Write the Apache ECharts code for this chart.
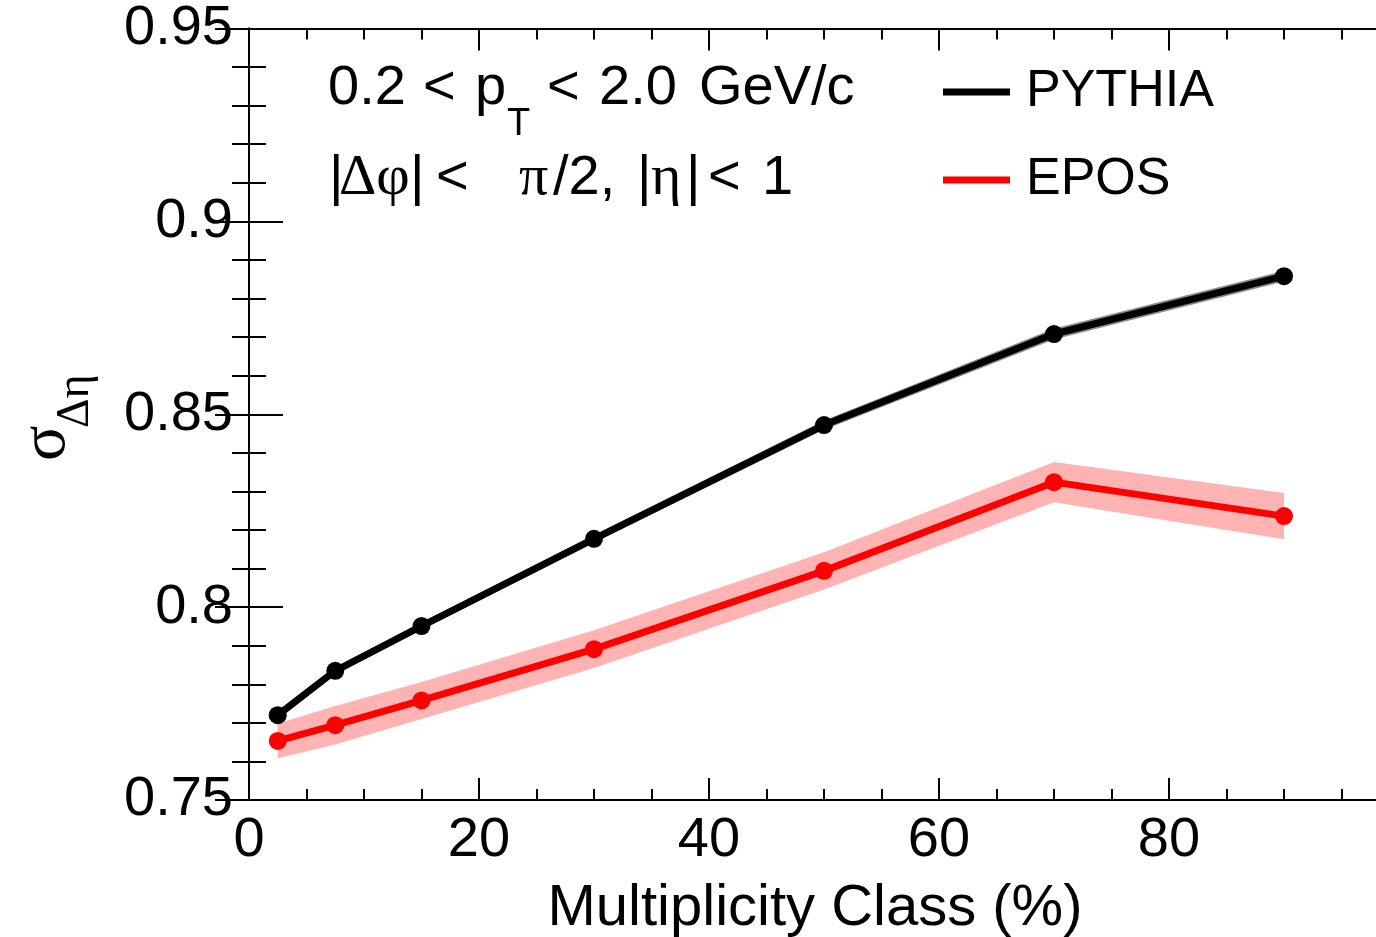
<!DOCTYPE html>
<html><head><meta charset="utf-8">
<script src="https://cdn.jsdelivr.net/npm/echarts@6/dist/echarts.min.js"></script>
<style>html,body{margin:0;padding:0;background:#fff}#c{width:1376px;height:937px}</style>
</head><body><div id="c"></div>
<script>
// ---- data ----
const multClass = [2.5, 7.5, 15, 30, 50, 70, 90];
const pythiaSigma = [0.7720, 0.7835, 0.7951, 0.8177, 0.8472, 0.8708, 0.8858];
const pythiaErr = [0.0008, 0.0008, 0.0009, 0.0010, 0.0012, 0.0014, 0.0014];
const eposSigma = [0.7653, 0.7694, 0.7758, 0.7891, 0.8094, 0.8324, 0.8236];
const eposErr = [0.0045, 0.0050, 0.0048, 0.0049, 0.0048, 0.0052, 0.0060];
const xTickValues = [0, 20, 40, 60, 80];
const xTickLabels = ['0', '20', '40', '60', '80'];
const yTickValues = [0.75, 0.8, 0.85, 0.9, 0.95];
const yTickLabels = ['0.75', '0.8', '0.85', '0.9', '0.95'];

const SANS = "'Liberation Sans', Arial, Helvetica, sans-serif";
const SERIF = "'Liberation Serif', 'Times New Roman', serif";

function lookup(vals, labels) {
  return function (v) {
    const i = vals.findIndex(t => Math.abs(t - v) < 1e-9);
    return i >= 0 ? labels[i] : '';
  };
}

function bandSeries(name, xs, ys, errs, color) {
  return {
    type: 'custom', name: name, silent: true, z: 1,
    data: xs.map((x, i) => [x, ys[i]]),
    renderItem: function (params, api) {
      if (params.dataIndex !== 0) return null;
      const upper = xs.map((x, i) => api.coord([x, ys[i] + errs[i]]));
      const lower = xs.map((x, i) => api.coord([x, ys[i] - errs[i]])).reverse();
      return { type: 'polygon', shape: { points: upper.concat(lower) }, style: { fill: color } };
    }
  };
}

const tickStyle = { color: '#000', width: 2 };
const xCommon = {
  type: 'value', min: 0, max: 100, interval: 20,
  axisLine: { show: true, lineStyle: { color: '#000', width: 2 } },
  axisTick: { show: true, inside: true, length: 22, lineStyle: tickStyle },
  minorTick: { show: true, splitNumber: 4, length: 11, lineStyle: tickStyle },
  splitLine: { show: false }, minorSplitLine: { show: false }
};
const yCommon = {
  type: 'value', min: 0.75, max: 0.95, interval: 0.05,
  axisLine: { show: true, lineStyle: { color: '#000', width: 2 } },
  axisTick: { show: true, inside: true, length: 34, lineStyle: tickStyle },
  minorTick: { show: true, splitNumber: 5, length: 17, lineStyle: tickStyle },
  splitLine: { show: false }, minorSplitLine: { show: false }
};

function txt(x, y, s, size, family) {
  return { type: 'text', x: x, y: y, silent: true,
    style: { text: s, fontSize: size, fontFamily: family || SANS, fill: '#000', align: 'left', verticalAlign: 'middle' } };
}

const L1 = 89, L2 = 179, FS = 56, FG = 58;

const chart = echarts.init(document.getElementById('c'), null, { renderer: 'canvas' });
chart.setOption({
  animation: false,
  backgroundColor: '#fff',
  grid: [
    { left: 249, top: 28.5, width: 1150, height: 771.5, containLabel: false, outerBoundsMode: 'none' },
    { left: 249, top: 28.5, width: 1136, height: 771.5, containLabel: false, outerBoundsMode: 'none' }
  ],
  xAxis: [
    Object.assign({}, xCommon, {
      gridIndex: 0, position: 'bottom',
      axisLabel: { show: true, fontSize: 56, fontFamily: SANS, color: '#000', margin: 13,
        formatter: lookup(xTickValues, xTickLabels), showMaxLabel: false }
    }),
    Object.assign({}, xCommon, { gridIndex: 0, position: 'top', axisLabel: { show: false } }),
    { type: 'value', gridIndex: 1, min: 0, max: 100, show: false }
  ],
  yAxis: [
    Object.assign({}, yCommon, {
      gridIndex: 0, position: 'left',
      axisLabel: { show: true, fontSize: 56, fontFamily: SANS, color: '#000', margin: 16,
        formatter: lookup(yTickValues, yTickLabels) }
    }),
    Object.assign({}, yCommon, { gridIndex: 1, position: 'right', axisLabel: { show: false } })
  ],
  legend: {
    left: 943, top: 58, orient: 'vertical', itemWidth: 67, itemHeight: 7, itemGap: 20, padding: 0,
    icon: 'rect', selectedMode: false,
    textStyle: { fontSize: 52, fontFamily: SANS, color: '#000', lineHeight: 54, padding: [14, 0, 0, 11] },
    data: ['PYTHIA', 'EPOS']
  },
  series: [
    bandSeries('PYTHIA band', multClass, pythiaSigma, pythiaErr, '#8c8c8c'),
    bandSeries('EPOS band', multClass, eposSigma, eposErr, '#ffb3b3'),
    {
      type: 'line', name: 'PYTHIA', z: 3,
      data: multClass.map((x, i) => [x, pythiaSigma[i]]),
      symbol: 'circle', symbolSize: 18, showSymbol: true,
      lineStyle: { color: '#000', width: 7 }, itemStyle: { color: '#000' }
    },
    {
      type: 'line', name: 'EPOS', z: 3,
      data: multClass.map((x, i) => [x, eposSigma[i]]),
      symbol: 'circle', symbolSize: 18, showSymbol: true,
      lineStyle: { color: '#ff0000', width: 7 }, itemStyle: { color: '#ff0000' }
    }
  ],
  graphic: [
    txt(328, L1, '0.2', FS),
    txt(423, L1, '<', FS),
    txt(475, L1, 'p', FS),
    txt(507, 125, 'T', 38),
    txt(547, L1, '<', FS),
    txt(599, L1, '2.0', FS),
    txt(699, L1, 'GeV/c', FS),
    txt(329, L2, '|', FS),
    txt(339, L2, 'Δφ', FG, SERIF),
    txt(410, L2, '|', FS),
    txt(436, L2, '<', FS),
    txt(519, L2, 'π', FG, SERIF),
    txt(553, L2, '/2,', FS),
    txt(637, L2, '|', FS),
    txt(651, L2, 'η', FG, SERIF),
    txt(686, L2, '|', FS),
    txt(708, L2, '<', FS),
    txt(762, L2, '1', FS),
    { type: 'text', x: 815, y: 909, silent: true, style: { text: 'Multiplicity Class (%)', fontSize: 58, fontFamily: SANS, fill: '#000', align: 'center', verticalAlign: 'middle' } },
    { type: 'text', x: 47, y: 461, rotation: Math.PI / 2, silent: true, style: { text: 'σ', fontSize: 66, fontFamily: SERIF, fill: '#000', align: 'left', verticalAlign: 'middle' } },
    { type: 'text', x: 76, y: 428, rotation: Math.PI / 2, silent: true, style: { text: 'Δη', fontSize: 46, fontFamily: SERIF, fill: '#000', align: 'left', verticalAlign: 'middle' } }
  ]
});
</script>
</body></html>
